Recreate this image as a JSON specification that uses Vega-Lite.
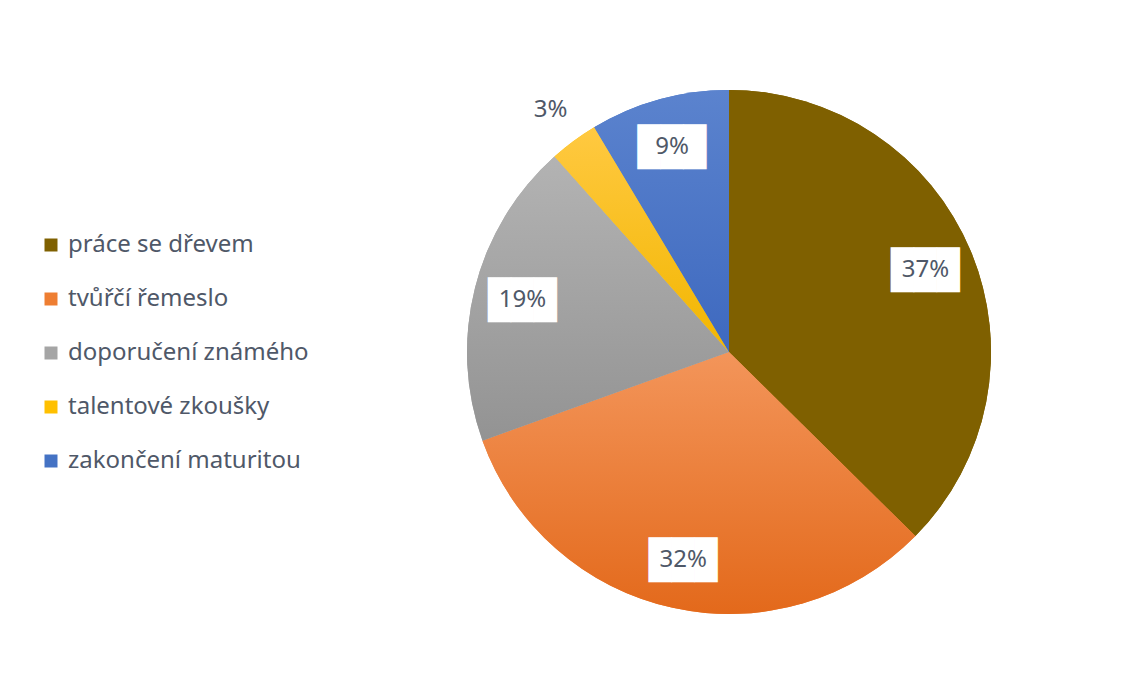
{
  "$schema": "https://vega.github.io/schema/vega-lite/v6.json",
  "width": 794,
  "height": 660,
  "autosize": {"type": "none"},
  "padding": {"left": 332, "top": 22, "right": 0, "bottom": 0},
  "background": "white",
  "config": {"view": {"stroke": null}},
  "data": {
    "values": [
      {"category": "práce se dřevem", "share": 0.374},
      {"category": "tvůřčí řemeslo", "share": 0.321},
      {"category": "doporučení známého", "share": 0.189},
      {"category": "talentové zkoušky", "share": 0.030},
      {"category": "zakončení maturitou", "share": 0.086}
    ]
  },
  "transform": [{"window": [{"op": "row_number", "as": "idx"}]}],
  "encoding": {
    "theta": {"field": "share", "type": "quantitative", "stack": true, "scale": {"domain": [0, 1]}},
    "order": {"field": "idx", "type": "quantitative"}
  },
  "layer": [
    {
      "mark": {"type": "arc", "outerRadius": 262},
      "encoding": {
        "color": {
          "field": "category",
          "type": "nominal",
          "sort": null,
          "scale": {
            "domain": ["práce se dřevem", "tvůřčí řemeslo", "doporučení známého", "talentové zkoušky", "zakončení maturitou"],
            "range": ["#7F6000", "#EE7E32", "#A5A5A5", "#FFC000", "#4472C4"]
          },
          "legend": {
            "title": null,
            "orient": "none",
            "legendX": -293,
            "legendY": 211,
            "symbolType": "square",
            "symbolSize": 169,
            "symbolStrokeWidth": 0,
            "labelFont": "Noto Sans",
            "labelFontSize": 24,
            "labelLimit": 500,
            "labelColor": "#4f5868",
            "labelOffset": 5,
            "rowPadding": 30,
            "padding": 0
          }
        }
      }
    },
    {
      "mark": {"type": "arc", "outerRadius": 262},
      "encoding": {
        "color": {
          "condition": [
            {"test": "datum.idx == 2", "value": {"gradient": "linear", "x1": 0, "y1": 0, "x2": 0, "y2": 1, "stops": [{"offset": 0, "color": "#F3955A"}, {"offset": 1, "color": "#E3691B"}]}},
            {"test": "datum.idx == 3", "value": {"gradient": "linear", "x1": 0, "y1": 0, "x2": 0, "y2": 1, "stops": [{"offset": 0, "color": "#B3B3B3"}, {"offset": 1, "color": "#939393"}]}},
            {"test": "datum.idx == 4", "value": {"gradient": "linear", "x1": 0, "y1": 0, "x2": 0, "y2": 1, "stops": [{"offset": 0, "color": "#FFC941"}, {"offset": 1, "color": "#F2B600"}]}},
            {"test": "datum.idx == 5", "value": {"gradient": "linear", "x1": 0, "y1": 0, "x2": 0, "y2": 1, "stops": [{"offset": 0, "color": "#5B83CE"}, {"offset": 1, "color": "#3E69BF"}]}}
          ],
          "value": "#7F6000"
        }
      }
    },
    {
      "mark": {"type": "text", "radius": 213, "text": "███", "font": "DejaVu Sans Mono", "fontSize": 38, "baseline": "middle", "align": "center", "dy": 2},
      "encoding": {
        "color": {"value": "white"},
        "opacity": {"condition": {"test": "datum.share < 0.05", "value": 0}, "value": 1}
      }
    },
    {
      "mark": {"type": "text", "radius": 213, "font": "Noto Sans", "fontSize": 24, "baseline": "middle", "align": "center"},
      "encoding": {
        "text": {"field": "share", "type": "quantitative", "format": ".0%"},
        "color": {"value": "#4f5868"},
        "opacity": {"condition": {"test": "datum.share < 0.05", "value": 0}, "value": 1}
      }
    },
    {
      "mark": {"type": "text", "radius": 301, "font": "Noto Sans", "fontSize": 24, "baseline": "middle", "align": "center"},
      "encoding": {
        "text": {"field": "share", "type": "quantitative", "format": ".0%"},
        "color": {"value": "#4f5868"},
        "opacity": {"condition": {"test": "datum.share < 0.05", "value": 1}, "value": 0}
      }
    }
  ]
}
